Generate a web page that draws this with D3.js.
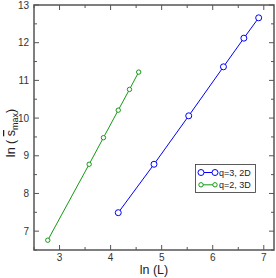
<!DOCTYPE html>
<html>
<head>
<meta charset="utf-8">
<script src="https://cdn.jsdelivr.net/npm/d3@7"></script>
<style>
  body { margin: 0; background: #fff; }
  text { font-family: "Liberation Sans", Arial, sans-serif; }
</style>
</head>
<body>
<div class="graph_container"></div>
<script>
// data
const blueX = [4.15, 4.85, 5.53, 6.21, 6.61, 6.90];
const blueY = [7.49, 8.775, 10.06, 11.36, 12.12, 12.66];
const greenX = [2.77, 3.58, 3.86, 4.15, 4.37, 4.55];
const greenY = [6.76, 8.775, 9.48, 10.21, 10.76, 11.22];
const seriesNames = ["q=3, 2D", "q=2, 3D"];
const xTicks = [3, 4, 5, 6, 7];
const yTicks = [7, 8, 9, 10, 11, 12, 13];

const W = 276, H = 278;
const plotLeft = 34, plotRight = 274, plotTop = 5, plotBottom = 250;

const svg = d3.select(".graph_container").append("svg")
  .attr("width", W).attr("height", H);

const x = d3.scaleLinear().domain([2.5, 7.2]).range([plotLeft, plotRight]);
const y = d3.scaleLinear().domain([6.5, 13]).range([plotBottom, plotTop]);

const axisColor = "#555";
const xMinor = d3.range(2.5, 7.21, 0.5).filter(v => !xTicks.includes(v));
const yMinor = d3.range(6.5, 13.01, 0.5).filter(v => !yTicks.includes(v));

// ticks (inward, all four sides)
const tg = svg.append("g").attr("stroke", axisColor).attr("stroke-width", 1);
xTicks.forEach(v => {
  tg.append("line").attr("x1", x(v)).attr("x2", x(v)).attr("y1", plotBottom).attr("y2", plotBottom - 5);
  tg.append("line").attr("x1", x(v)).attr("x2", x(v)).attr("y1", plotTop).attr("y2", plotTop + 5);
});
xMinor.forEach(v => {
  tg.append("line").attr("x1", x(v)).attr("x2", x(v)).attr("y1", plotBottom).attr("y2", plotBottom - 3);
  tg.append("line").attr("x1", x(v)).attr("x2", x(v)).attr("y1", plotTop).attr("y2", plotTop + 3);
});
yTicks.forEach(v => {
  tg.append("line").attr("y1", y(v)).attr("y2", y(v)).attr("x1", plotLeft).attr("x2", plotLeft + 5);
  tg.append("line").attr("y1", y(v)).attr("y2", y(v)).attr("x1", plotRight).attr("x2", plotRight - 5);
});
yMinor.forEach(v => {
  tg.append("line").attr("y1", y(v)).attr("y2", y(v)).attr("x1", plotLeft).attr("x2", plotLeft + 3);
  tg.append("line").attr("y1", y(v)).attr("y2", y(v)).attr("x1", plotRight).attr("x2", plotRight - 3);
});

// frame
svg.append("rect").attr("x", plotLeft).attr("y", plotTop)
  .attr("width", plotRight - plotLeft).attr("height", plotBottom - plotTop)
  .attr("fill", "none").attr("stroke", axisColor).attr("stroke-width", 1.5);

// tick labels
svg.append("g").selectAll("text").data(xTicks).join("text")
  .attr("x", d => x(d)).attr("y", plotBottom + 10.5)
  .attr("text-anchor", "middle").attr("font-size", 10).attr("fill", "#333")
  .text(d => d);
svg.append("g").selectAll("text").data(yTicks).join("text")
  .attr("x", plotLeft - 5).attr("y", d => y(d) + 3.5)
  .attr("text-anchor", "end").attr("font-size", 10).attr("fill", "#333")
  .text(d => d);

// axis titles
svg.append("text").attr("x", 154).attr("y", 273.5)
  .attr("text-anchor", "middle").attr("font-size", 12.5).attr("fill", "#222")
  .text("ln (L)");

const yl = svg.append("text")
  .attr("transform", "translate(15,133) rotate(-90)")
  .attr("text-anchor", "middle").attr("font-size", 12.5).attr("fill", "#222");
yl.append("tspan").text("ln ( ");
yl.append("tspan").attr("text-decoration", "overline").text("s");
yl.append("tspan").attr("font-size", 9).attr("dy", 3).text("max");
yl.append("tspan").attr("dy", -3).text(")");

// series
const line = d3.line().x(d => x(d[0])).y(d => y(d[1]));
const series = [
  { name: seriesNames[0], color: "#0000ff", r: 3, pts: d3.zip(blueX, blueY) },
  { name: seriesNames[1], color: "#139a13", r: 2.2, pts: d3.zip(greenX, greenY) }
];
series.forEach(s => {
  svg.append("path").datum(s.pts).attr("d", line)
    .attr("fill", "none").attr("stroke", s.color).attr("stroke-width", 1);
  svg.append("g").selectAll("circle").data(s.pts).join("circle")
    .attr("cx", d => x(d[0])).attr("cy", d => y(d[1])).attr("r", s.r)
    .attr("fill", "#fff").attr("stroke", s.color).attr("stroke-width", 1);
});

// legend
const lg = svg.append("g");
lg.append("rect").attr("x", 195.5).attr("y", 164.5).attr("width", 60).attr("height", 28)
  .attr("fill", "#fff").attr("stroke", "#333").attr("stroke-width", 0.8);
series.forEach((s, i) => {
  const ly = 172.5 + i * 12.3;
  lg.append("line").attr("x1", 201).attr("x2", 215).attr("y1", ly).attr("y2", ly)
    .attr("stroke", s.color).attr("stroke-width", 1);
  [201, 215].forEach(cx => lg.append("circle").attr("cx", cx).attr("cy", ly).attr("r", s.r)
    .attr("fill", "#fff").attr("stroke", s.color));
  lg.append("text").attr("x", 219).attr("y", ly + 3.3).attr("font-size", 9).attr("fill", "#222")
    .text(s.name);
});
</script>
</body>
</html>
